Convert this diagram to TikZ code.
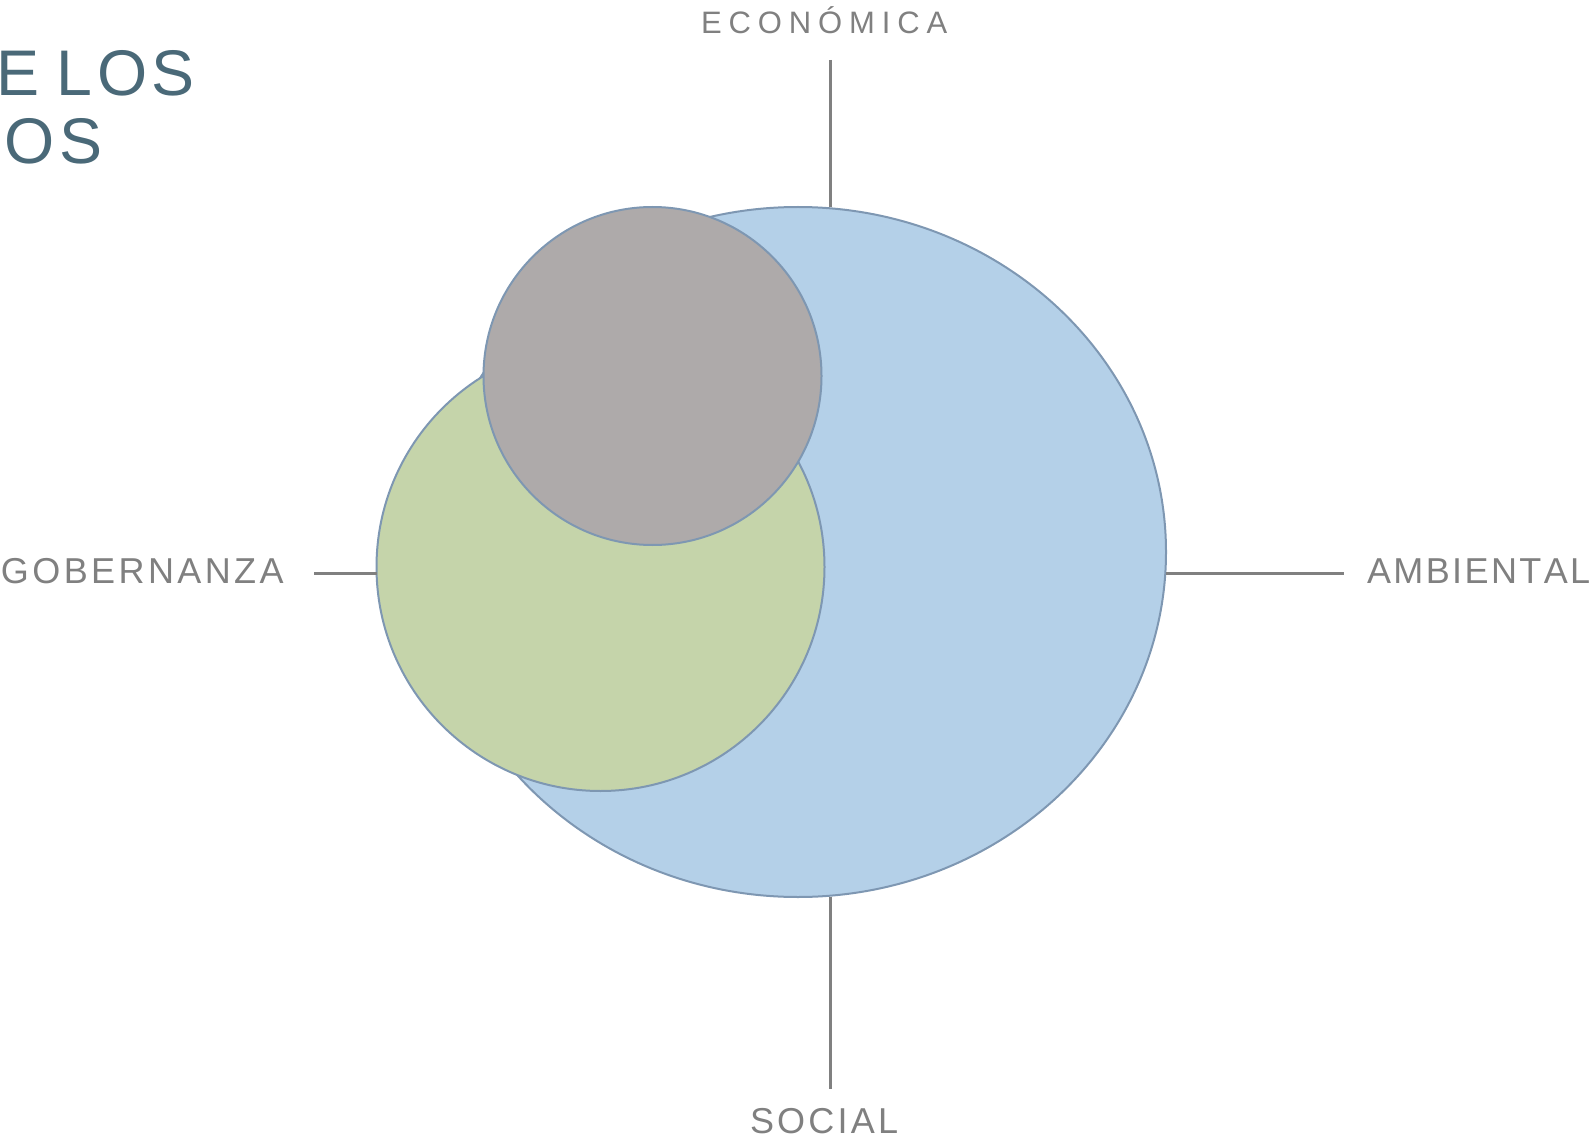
\documentclass[tikz,border=0pt]{standalone}
\usepackage{fontspec}
\setmainfont{Liberation Sans}
\usetikzlibrary{shapes.geometric}

% letter-spaced (tracked) capitals
\newdimen\trkdim
\newcommand\tracked[2]{\trkdim=#1\relax\trkloop#2\relax}
\def\trkloop#1{#1\futurelet\trknext\trkcheck}
\def\trkcheck{\ifx\trknext\relax\expandafter\trkstop\else\kern\trkdim\expandafter\trkloop\fi}
\def\trkstop\relax{}

\definecolor{envblue}{RGB}{180,208,232}
\definecolor{govgreen}{RGB}{197,212,170}
\definecolor{ecogrey}{RGB}{174,170,170}
\definecolor{rimline}{RGB}{126,151,178}
\definecolor{axisgrey}{RGB}{128,128,128}
\definecolor{titleslate}{RGB}{74,105,120}

\tikzset{
  bubble/.style={draw=rimline, line width=2pt, inner sep=0pt, outer sep=0pt},
  axisline/.style={draw=axisgrey, line width=3pt},
  axislabel/.style={text=axisgrey, inner sep=0pt, outer sep=0pt,
    font=\fontsize{36}{40}\selectfont},
  titletext/.style={text=titleslate, inner sep=0pt, outer sep=0pt,
    font=\fontsize{64.5}{70}\selectfont},
}

\begin{document}
\begin{tikzpicture}[x=1pt,y=-1pt]
\useasboundingbox (0,0) rectangle (1595,1139);

% heading, running off the left edge
\node[titletext, anchor=base west] (head1) at (-4,96) {\tracked{4.5pt}{E}\ \tracked{4.5pt}{LOS}};
\node[titletext, anchor=base west] (head2) at (5,164) {\tracked{4.5pt}{OS}};

% the three overlapping areas
\node[bubble, ellipse, fill=envblue, minimum width=736pt, minimum height=690pt] (amb) at (798,552) {};
\node[bubble, circle, fill=govgreen, minimum size=448pt] (gob) at (600.5,567) {};
\node[bubble, circle, fill=ecogrey, minimum size=338pt] (eco) at (652.5,376) {};

% axis labels
\node[axislabel, anchor=base west, font=\fontsize{31}{36}\selectfont] (lblE) at (701,34) {\tracked{6.9pt}{ECONÓMICA}};
\node[axislabel, anchor=base west] (lblG) at (1,583) {\tracked{3.4pt}{GOBERNANZA}};
\node[axislabel, anchor=base west] (lblA) at (1367,583) {\tracked{2.4pt}{AMBIENTAL}};
\node[axislabel, anchor=base west] (lblS) at (750,1133) {\tracked{3.2pt}{SOCIAL}};

% axis ends
\coordinate (eTop) at (830,60);
\coordinate (eBot) at (830,207);
\coordinate (sTop) at (830,897);
\coordinate (sBot) at (830,1089);
\coordinate (gL) at (314,573);
\coordinate (gR) at (376.5,573);
\coordinate (aL) at (1166,573);
\coordinate (aR) at (1344,573);

\draw[axisline] (eTop) -- (eBot);
\draw[axisline] (sTop) -- (sBot);
\draw[axisline] (gL) -- (gR);
\draw[axisline] (aL) -- (aR);
\end{tikzpicture}
\end{document}
